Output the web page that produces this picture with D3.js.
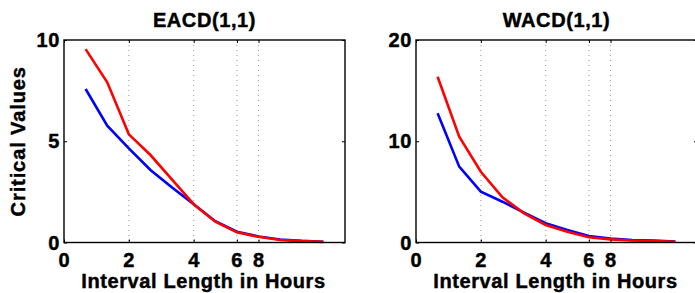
<!DOCTYPE html>
<html>
<head>
<meta charset="utf-8">
<script src="https://cdn.jsdelivr.net/npm/d3@7"></script>
<style>
  body { margin: 0; background: #fff; }
  text { font-family: "Liberation Sans", Arial, sans-serif; font-weight: bold; fill: #000; stroke: #000; stroke-width: 0.45px; }
</style>
</head>
<body>
<script>
const width = 695;
const height = 293;

// x positions are the interval index (1..12), ticks labelled in hours
const xIndex = [1, 2, 3, 4, 5, 6, 7, 8, 9, 10, 11, 12];
const xTickPos = [0, 3, 6, 8, 9];
const xTickLabels = ["0", "2", "4", "6", "8"];

const eacdBlue = [7.58, 5.77, 4.65, 3.58, 2.72, 1.89, 1.05, 0.53, 0.30, 0.15, 0.08, 0.04];
const eacdRed  = [9.55, 7.91, 5.34, 4.32, 3.10, 1.89, 1.03, 0.50, 0.28, 0.12, 0.07, 0.03];
const wacdBlue = [12.76, 7.49, 5.02, 4.03, 2.95, 1.90, 1.23, 0.64, 0.38, 0.25, 0.20, 0.10];
const wacdRed  = [16.37, 10.45, 6.99, 4.46, 2.88, 1.73, 1.07, 0.51, 0.31, 0.20, 0.15, 0.08];

const panels = [
  { title: "EACD(1,1)", left: 64, yMax: 10, yTicks: [0, 5, 10], blue: eacdBlue, red: eacdRed, ylabel: "Critical Values" },
  { title: "WACD(1,1)", left: 416, yMax: 20, yTicks: [0, 10, 20], blue: wacdBlue, red: wacdRed, ylabel: null }
];

const boxW = 281;
const plotTop = 40;
const plotBottom = 242.5;
const fs = 20;
const ls = 0.6;

const svg = d3.select("body").append("svg")
    .attr("width", width)
    .attr("height", height);

panels.forEach(function (p) {
  const x = d3.scaleLinear().domain([0, 13]).range([p.left, p.left + boxW]);
  const y = d3.scaleLinear().domain([0, p.yMax]).range([plotBottom, plotTop]);
  const g = svg.append("g");

  // dotted grid at labelled hours
  g.selectAll("line.grid")
      .data(xTickPos.filter(function (d) { return d > 0; }))
      .enter().append("line")
      .attr("class", "grid")
      .attr("x1", function (d) { return x(d); })
      .attr("x2", function (d) { return x(d); })
      .attr("y1", plotTop)
      .attr("y2", plotBottom)
      .attr("stroke", "#999")
      .attr("stroke-width", 1)
      .attr("stroke-dasharray", "1,4");

  const line = d3.line()
      .x(function (d, i) { return x(xIndex[i]); })
      .y(function (d) { return y(d); });

  g.append("path").datum(p.blue)
      .attr("d", line)
      .attr("fill", "none")
      .attr("stroke", "#0000ff")
      .attr("stroke-width", 2.6);

  g.append("path").datum(p.red)
      .attr("d", line)
      .attr("fill", "none")
      .attr("stroke", "#ff0000")
      .attr("stroke-width", 2.6);

  // axes: ticks drawn inward, labels placed by hand
  const xAxis = d3.axisBottom(x).tickValues(xTickPos).tickSize(-3).tickFormat("");
  const xAxisTop = d3.axisTop(x).tickValues(xTickPos).tickSize(-3).tickFormat("");
  const yAxis = d3.axisLeft(y).tickValues(p.yTicks).tickSize(-3).tickFormat("");
  const yAxisRight = d3.axisRight(y).tickValues(p.yTicks).tickSize(-3).tickFormat("");

  [[xAxis, "translate(0," + plotBottom + ")"],
   [xAxisTop, "translate(0," + plotTop + ")"],
   [yAxis, "translate(" + p.left + ",0)"],
   [yAxisRight, "translate(" + (p.left + boxW) + ",0)"]].forEach(function (a) {
    const ag = g.append("g").attr("transform", a[1]).call(a[0]);
    ag.select(".domain").remove();
    ag.selectAll(".tick line").attr("stroke", "#000").attr("stroke-width", 1);
  });

  g.append("rect")
      .attr("x", p.left)
      .attr("y", plotTop)
      .attr("width", boxW)
      .attr("height", plotBottom - plotTop)
      .attr("fill", "none")
      .attr("stroke", "#000")
      .attr("stroke-width", 1.4);

  g.selectAll("text.xt")
      .data(xTickPos)
      .enter().append("text")
      .attr("class", "xt")
      .attr("x", function (d) { return x(d) + ls / 2; })
      .attr("y", 267)
      .attr("text-anchor", "middle")
      .style("font-size", fs + "px")
      .style("letter-spacing", ls + "px")
      .text(function (d, i) { return xTickLabels[i]; });

  g.selectAll("text.yt")
      .data(p.yTicks)
      .enter().append("text")
      .attr("class", "yt")
      .attr("x", p.left - 4)
      .attr("y", function (d) { return y(d) + 7; })
      .attr("text-anchor", "end")
      .style("font-size", fs + "px")
      .style("letter-spacing", ls + "px")
      .text(function (d) { return d; });

  g.append("text")
      .attr("x", p.left + boxW / 2)
      .attr("y", 27)
      .attr("text-anchor", "middle")
      .style("font-size", fs + "px")
      .style("letter-spacing", ls + "px")
      .text(p.title);

  g.append("text")
      .attr("x", p.left + boxW / 2 - 1)
      .attr("y", 288)
      .attr("text-anchor", "middle")
      .style("font-size", fs + "px")
      .style("letter-spacing", ls + "px")
      .text("Interval Length in Hours");

  if (p.ylabel) {
    g.append("text")
        .attr("transform", "translate(25," + ((plotTop + plotBottom) / 2) + ") rotate(-90)")
        .attr("text-anchor", "middle")
        .style("font-size", fs + "px")
        .style("letter-spacing", (ls + 0.3) + "px")
        .text(p.ylabel);
  }
});
</script>
</body>
</html>
